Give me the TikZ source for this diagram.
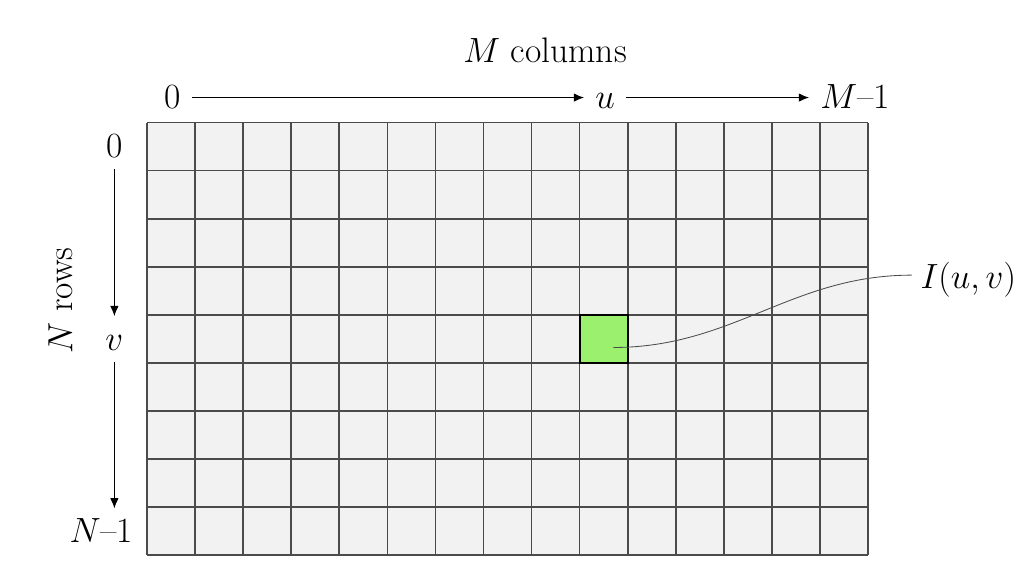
\documentclass[tikz,border=0pt]{standalone}
\usepackage{tikz}
\usetikzlibrary{arrows.meta}
\usepackage{xcolor}
\definecolor{cellgray}{RGB}{242,242,242}
\definecolor{gridgray}{RGB}{75,75,75}
\definecolor{pixgreen}{RGB}{155,240,110}
\tikzset{
  bigtxt/.style={font=\fontsize{21}{25}\selectfont, inner sep=6.5pt},
  axislbl/.style={font=\fontsize{21}{25}\selectfont, inner sep=6.5pt, text height=13.5pt, text depth=0pt},
  axisarrow/.style={-{Latex[length=6pt,width=5pt]}, line width=0.6pt},
  gridline/.style={gridgray, line width=1pt},
  pixcell/.style={draw=black, line width=1.3pt, fill=pixgreen, minimum size=1cm, inner sep=0pt},
}

\begin{document}
\begin{tikzpicture}
  \useasboundingbox (-3.06,-0.29) rectangle (18.10,11.55);

  % --- image grid ---
  \fill[cellgray] (0,0) rectangle (15,9);
  \foreach \x in {0,...,15}{
    \draw[gridline] (\x,0) -- (\x,9);
  }
  \foreach \y in {0,...,9}{
    \draw[gridline] (0,\y) -- (15,\y);
  }

  % --- selected pixel ---
  \node[pixcell] (pix) at (9.5,4.5) {};
  \coordinate (pixdot) at (9.7,4.32);

  % --- column axis ---
  \node[bigtxt] (colslbl) at (8.28,10.5) {$M$ columns};
  \node[axislbl] (colzero) at (0.53,9.52) {0};
  \node[axislbl] (colu) at (9.53,9.52) {$u$};
  \node[axislbl] (colmax) at (14.73,9.52) {$M$--1};
  \draw[axisarrow] (colzero) -- (colu);
  \draw[axisarrow] (colu) -- (colmax);

  % --- row axis ---
  \node[bigtxt,rotate=90] (rowslbl) at (-1.8,5.3) {$N$ rows};
  \node[axislbl] (rowzero) at (-0.68,8.5) {0};
  \node[axislbl] (rowv) at (-0.68,4.5) {$v$};
  \node[axislbl] (rowmax) at (-0.95,0.5) {$N$--1};
  \draw[axisarrow] (rowzero) -- (rowv);
  \draw[axisarrow] (rowv) -- (rowv |- rowmax.north);

  % --- pixel value ---
  \node[bigtxt,font=\fontsize{19.5}{23}\selectfont,inner sep=3pt,anchor=west] (pixlbl) at (15.98,5.72) {$I(u,v)$};
  \draw[gridgray,line width=0.5pt] (pixdot) to[out=0,in=180] ([xshift=-2pt,yshift=3pt]pixlbl.west);

\end{tikzpicture}
\end{document}
